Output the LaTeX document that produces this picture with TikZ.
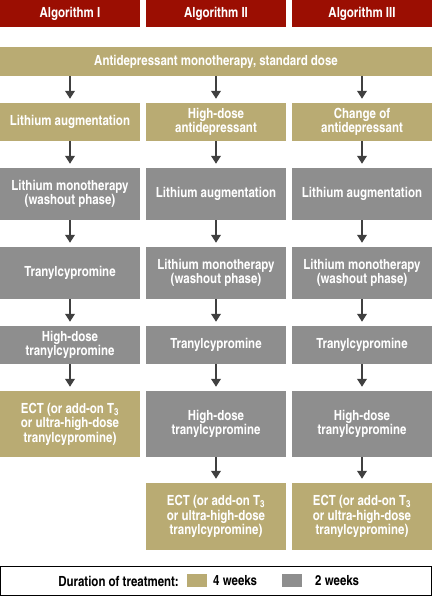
\documentclass[tikz,border=0pt]{standalone}
\usepackage{fontspec}
\setmainfont{texgyreheroscn}[Extension=.otf, UprightFont=*-regular, BoldFont=*-bold, ItalicFont=*-italic, BoldItalicFont=*-bolditalic]
\usetikzlibrary{arrows.meta}
\definecolor{hdrred}{HTML}{9B0E02}
\definecolor{tan}{HTML}{B9AB73}
\definecolor{gbox}{HTML}{8E8E8E}
\definecolor{arr}{HTML}{404040}
\tikzset{
  base/.style={inner sep=0pt, align=center, text=white, font=\bfseries\fontsize{14}{14.5}\selectfont, minimum width=140pt},
  hdr/.style={base, fill=hdrred, minimum height=27pt},
  tanbox/.style={base, fill=tan},
  graybox/.style={base, fill=gbox},
  flow/.style={draw=arr, line width=2.3pt, -{Triangle[length=8pt,width=9.5pt]}, shorten >=4pt},
  legtext/.style={font=\bfseries\fontsize{14}{14.5}\selectfont, inner sep=0pt},
}
\begin{document}
\begin{tikzpicture}[x=1pt,y=-1pt]
\useasboundingbox (0,0) rectangle (432,596);
% headers
\node[hdr] (h1) at (70,13.5) {Algorithm I};
\node[hdr] (h2) at (216,13.5) {Algorithm II};
\node[hdr] (h3) at (362,13.5) {Algorithm III};
% top
\node[tanbox, minimum width=432pt, minimum height=29pt] (top) at (216,61.5) {Antidepressant monotherapy, standard dose};
\coordinate (t1) at (70,76);
\coordinate (t2) at (216,76);
\coordinate (t3) at (362,76);
% row 2
\node[tanbox, minimum height=38pt] (a2) at (70,122) {Lithium augmentation};
\node[tanbox, minimum height=38pt] (b2) at (216,122) {High-dose\\antidepressant};
\node[tanbox, minimum height=38pt] (c2) at (362,122) {Change of\\antidepressant};
% row 3
\node[graybox, minimum height=52pt] (a3) at (70,194) {Lithium monotherapy\\(washout phase)};
\node[graybox, minimum height=52pt] (b3) at (216,194) {Lithium augmentation};
\node[graybox, minimum height=52pt] (c3) at (362,194) {Lithium augmentation};
% row 4
\node[graybox, minimum height=52pt] (a4) at (70,273) {Tranylcypromine};
\node[graybox, minimum height=52pt] (b4) at (216,273) {Lithium monotherapy\\(washout phase)};
\node[graybox, minimum height=52pt] (c4) at (362,273) {Lithium monotherapy\\(washout phase)};
% row 5
\node[graybox, minimum height=38pt] (a5) at (70,345) {High-dose\\tranylcypromine};
\node[graybox, minimum height=38pt] (b5) at (216,345) {Tranylcypromine};
\node[graybox, minimum height=38pt] (c5) at (362,345) {Tranylcypromine};
% row 6
\node[tanbox, minimum height=66pt] (a6) at (70,424) {ECT (or add-on T\textsubscript{3}\\or ultra-high-dose\\tranylcypromine)};
\node[graybox, minimum height=66pt] (b6) at (216,424) {High-dose\\tranylcypromine};
\node[graybox, minimum height=66pt] (c6) at (362,424) {High-dose\\tranylcypromine};
% row 7
\node[tanbox, minimum height=67pt] (b7) at (216,516.5) {ECT (or add-on T\textsubscript{3}\\or ultra-high-dose\\tranylcypromine)};
\node[tanbox, minimum height=67pt] (c7) at (362,516.5) {ECT (or add-on T\textsubscript{3}\\or ultra-high-dose\\tranylcypromine)};
% arrows
\draw[flow] (t1) -- (a2.north);
\draw[flow] (t2) -- (b2.north);
\draw[flow] (t3) -- (c2.north);
\draw[flow] (a2) -- (a3);
\draw[flow] (b2) -- (b3);
\draw[flow] (c2) -- (c3);
\draw[flow] (a3) -- (a4);
\draw[flow] (b3) -- (b4);
\draw[flow] (c3) -- (c4);
\draw[flow] (a4) -- (a5);
\draw[flow] (b4) -- (b5);
\draw[flow] (c4) -- (c5);
\draw[flow] (a5) -- (a6);
\draw[flow] (b5) -- (b6);
\draw[flow] (c5) -- (c6);
\draw[flow] (b6) -- (b7);
\draw[flow] (c6) -- (c7);
% legend
\node[draw=black, line width=1.2pt, minimum width=430.8pt, minimum height=28.8pt, inner sep=0pt] (leg) at (216,581) {};
\node[legtext, anchor=east] (lt) at (179,581) {Duration of treatment:};
\node[fill=tan, minimum width=20pt, minimum height=13pt, inner sep=0pt] (s1) at (197,580.5) {};
\node[legtext, anchor=west] (l1) at (213,581) {4 weeks};
\node[fill=gbox, minimum width=20pt, minimum height=13pt, inner sep=0pt] (s2) at (292,580.5) {};
\node[legtext, anchor=west] (l2) at (315,581) {2 weeks};
\end{tikzpicture}
\end{document}
